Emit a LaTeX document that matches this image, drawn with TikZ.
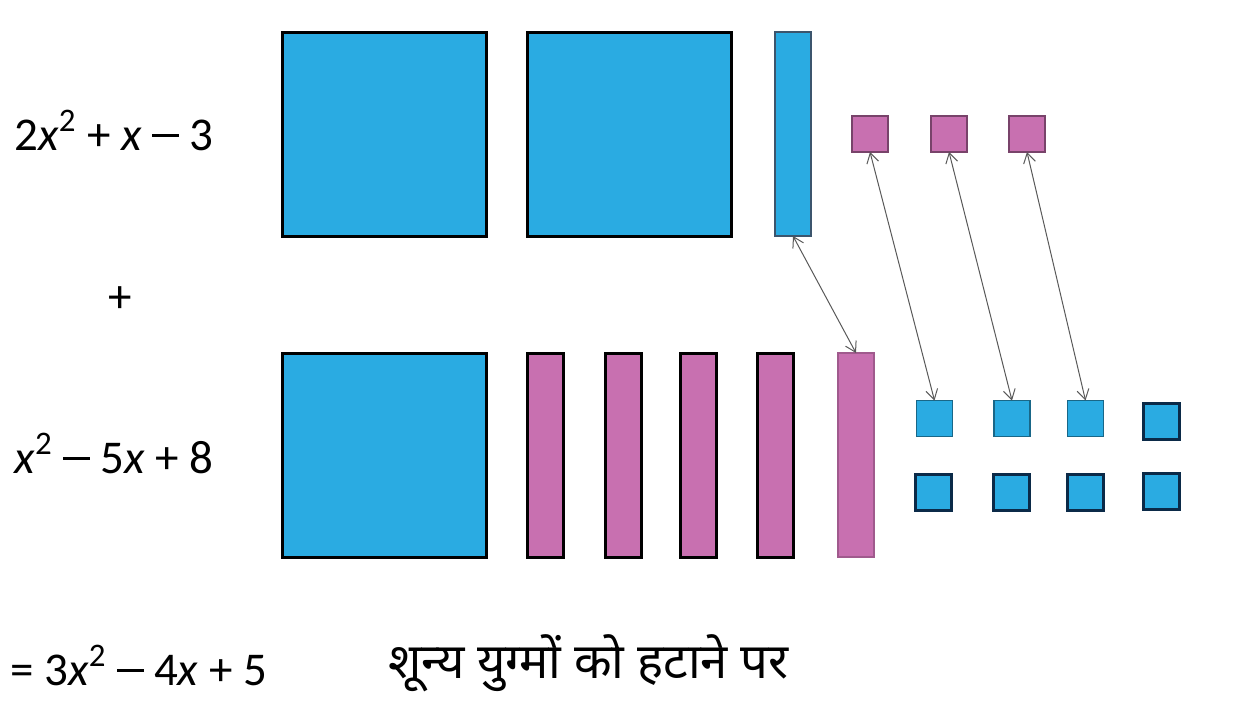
\documentclass[tikz,border=0pt]{standalone}
\usepackage{fontspec}
\setmainfont{Carlito}
\newfontfamily\devfont[Script=Devanagari]{Noto Sans}
\usepackage{xcolor}
\usetikzlibrary{arrows.meta,positioning}
\definecolor{tileblue}{HTML}{2AABE2}
\definecolor{tilepink}{HTML}{C870B0}
\definecolor{navy}{HTML}{0B2A48}
\newcommand{\mns}{\rule[0.27em]{0.56em}{0.06em}}
\begin{document}
\begin{tikzpicture}[x=0.5pt,y=-0.5pt,
  tile/.style={draw=#1,inner sep=0pt,outer sep=0pt},
  bigsq/.style={tile=black,line width=1.5pt,fill=tileblue,minimum width=102pt,minimum height=102pt},
  bar/.style={inner sep=0pt,outer sep=0pt,minimum width=18pt,minimum height=102pt},
  unit/.style={inner sep=0pt,outer sep=0pt,minimum width=18pt,minimum height=18pt},
  eq/.style={font=\fontsize{23.5}{28}\selectfont,inner sep=0pt,anchor=base west},
  ref/.style={{Straight Barb[length=5pt,width=6pt]}-{Straight Barb[length=5pt,width=6pt]},draw=black!65,line width=0.5pt}]
\useasboundingbox (0,0) rectangle (1233,713);
\node[eq] (p1) at (14,150) {2\textit{x}\textsuperscript{2} + \textit{x} \mns{} 3};
\node[eq,anchor=center] (plus) at (120,300) {+};
\node[eq] (p2) at (14,473) {\textit{x}\textsuperscript{2} \mns{} 5\textit{x} + 8};
\node[eq] (sum) at (10,685) {= 3\textit{x}\textsuperscript{2} \mns{} 4\textit{x} + 5};
\node[font=\devfont\fontsize{24.5}{28}\selectfont,inner sep=0pt,anchor=base west] (note) at (388,678) {शून्य युग्मों को हटाने पर};
\node[bigsq] (sqA1) at (384,134) {};
\node[bigsq] (sqA2) at (629,134) {};
\node[bar,draw=navy!80,line width=0.8pt,fill=tileblue] (barA) at (793,134) {};
\node[unit,draw=tilepink!60!black,line width=0.6pt,fill=tilepink] (unA1) at (870,134) {};
\node[unit,draw=tilepink!60!black,line width=0.6pt,fill=tilepink] (unA2) at (949,134) {};
\node[unit,draw=tilepink!60!black,line width=0.6pt,fill=tilepink] (unA3) at (1027,134) {};
\node[bigsq] (sqB) at (384,455) {};
\node[bar,draw=black,line width=1.5pt,fill=tilepink] (barB1) at (545,455) {};
\node[bar,draw=black,line width=1.5pt,fill=tilepink] (barB2) at (623,455) {};
\node[bar,draw=black,line width=1.5pt,fill=tilepink] (barB3) at (698,455) {};
\node[bar,draw=black,line width=1.5pt,fill=tilepink] (barB4) at (775,455) {};
\node[bar,draw=tilepink!80!black,line width=0.6pt,fill=tilepink] (barB5) at (856,455) {};
\node[unit,draw=tileblue!60!black,line width=0.6pt,fill=tileblue] (unB1) at (934.5,418.5) {};
\node[unit,draw=tileblue!60!black,line width=0.6pt,fill=tileblue] (unB2) at (1012,418.5) {};
\node[unit,draw=tileblue!60!black,line width=0.6pt,fill=tileblue] (unB3) at (1085.5,418.5) {};
\node[unit,draw=navy,line width=1.5pt,fill=tileblue] (unB4) at (1161,421) {};
\node[unit,draw=navy,line width=1.5pt,fill=tileblue] (unB5) at (933,492.5) {};
\node[unit,draw=navy,line width=1.5pt,fill=tileblue] (unB6) at (1011,492.5) {};
\node[unit,draw=navy,line width=1.5pt,fill=tileblue] (unB7) at (1085.5,492.5) {};
\node[unit,draw=navy,line width=1.5pt,fill=tileblue] (unB8) at (1161,491) {};
\draw[ref] (barA.south) -- (barB5.north);
\draw[ref] (unA1.south) -- (unB1.north);
\draw[ref] (unA2.south) -- (unB2.north);
\draw[ref] (unA3.south) -- (unB3.north);
\end{tikzpicture}
\end{document}
